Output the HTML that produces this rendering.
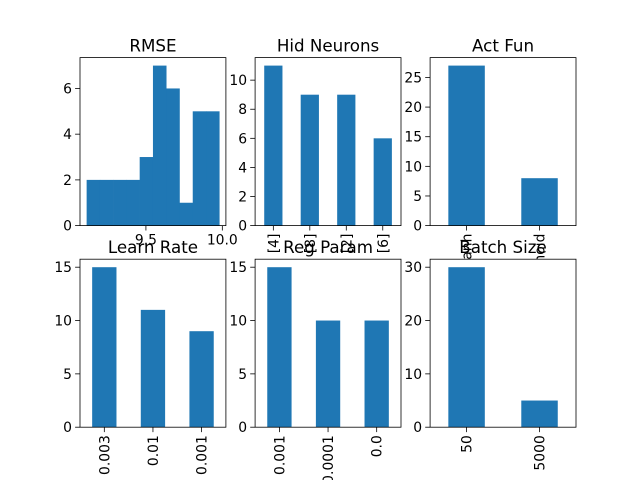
<!DOCTYPE html>
<html><head><meta charset="utf-8"><style>
html,body{margin:0;padding:0;background:#fff;}
svg{display:block;font-family:"DejaVu Sans","Liberation Sans",sans-serif;}
</style></head><body>
<svg id="fig" width="640" height="480" viewBox="0 0 640 480" xmlns="http://www.w3.org/2000/svg"></svg>
<script>
// RMSE histogram data
const rmseCounts = [2,2,2,2,3,7,6,1,5,5];
const rmseMin = 9.112, rmseMax = 9.98;
const rmseXTicks = [9.5, 10.0];
const rmseXTickLabels = ['9.5','10.0'];
const rmseYTicks = [0,2,4,6];
// Bar panels
const hidCats = ['[4]','[8]','[2]','[6]'];
const hidVals = [11,9,9,6];
const hidYTicks = [0,2,4,6,8,10];
const actCats = ['tanh','sigmoid'];
const actVals = [27,8];
const actYTicks = [0,5,10,15,20,25];
const lrCats = ['0.003','0.01','0.001'];
const lrVals = [15,11,9];
const lrYTicks = [0,5,10,15];
const regCats = ['0.001','0.0001','0.0'];
const regVals = [15,10,10];
const regYTicks = [0,5,10,15];
const bsCats = ['50','5000'];
const bsVals = [30,5];
const bsYTicks = [0,10,20,30];

const NS='http://www.w3.org/2000/svg';
const svg=document.getElementById('fig');
function mk(tag,attrs,parent){const e=document.createElementNS(NS,tag);for(const k in attrs)e.setAttribute(k,attrs[k]);(parent||svg).appendChild(e);return e;}
const color='#1f77b4';
const AW=145.9, AH=168;
const cols=[80,255.1,430.1], rows=[57.6,259.2];

function bg(g,x0,y0){
  const r=mk('rect',{x:x0,y:y0,width:AW,height:AH,fill:'#fff'},g);
  
  
}
function axesFrame(g,x0,y0,title,yTicks,yScale){
  const t=mk('text',{x:x0+AW/2,y:y0-6,'text-anchor':'middle','font-size':'16.7px',fill:'#000'},g);
  t.textContent=title;
  
  
  yTicks.forEach(v=>{
    const y=yScale(v);
    const l=mk('line',{x1:x0-4.9,x2:x0,y1:y,y2:y,stroke:'#000','stroke-width':0.8},g);
    
    
    const tx=mk('text',{x:x0-8,y:y+5,'text-anchor':'end','font-size':'13.9px',fill:'#000'},g);
    tx.textContent=String(v);
    
    
  });
}
function frameRect(g,x0,y0){
  const r=mk('rect',{x:x0,y:y0,width:AW,height:AH,fill:'none',stroke:'#000','stroke-width':0.8},g);
  
  
}

function histPanel(){
  const x0=cols[0], y0=rows[0];
  const g=mk('g',{});
  
  
  bg(g,x0,y0);
  const span=rmseMax-rmseMin, lo=rmseMin-0.05*span, hi=rmseMax+0.05*span;
  const xs=v=>x0+(v-lo)/(hi-lo)*AW;
  const ymax=Math.max(...rmseCounts)*1.05;
  const ys=v=>y0+AH-v/ymax*AH;
  const bw=span/rmseCounts.length;
  rmseCounts.forEach((c,i)=>{
    const a=xs(rmseMin+i*bw), b=xs(rmseMin+(i+1)*bw);
    const r=mk('rect',{x:a,y:ys(c),width:b-a+0.3,height:ys(0)-ys(c),fill:color},g);
    
    
  });
  axesFrame(g,x0,y0,'RMSE',rmseYTicks,ys);
  rmseXTicks.forEach((v,i)=>{
    const x=xs(v);
    const l=mk('line',{x1:x,x2:x,y1:y0+AH,y2:y0+AH+4.9,stroke:'#000','stroke-width':0.8},g);
    
    
    const t=mk('text',{x:x,y:y0+AH+19,'text-anchor':'middle','font-size':'13.9px',fill:'#000'},g);
    t.textContent=rmseXTickLabels[i];
    
    
  });
  frameRect(g,x0,y0);
}

function barPanel(col,row,title,cats,vals,yTicks,name){
  const x0=cols[col], y0=rows[row];
  const g=mk('g',{});
  
  
  bg(g,x0,y0);
  const n=cats.length;
  const xs=v=>x0+(v+0.5)/n*AW;
  const ymax=Math.max(...vals)*1.05;
  const ys=v=>y0+AH-v/ymax*AH;
  vals.forEach((v,i)=>{
    const a=xs(i-0.25), b=xs(i+0.25);
    const r=mk('rect',{x:a,y:ys(v),width:b-a,height:ys(0)-ys(v),fill:color},g);
    
    
  });
  axesFrame(g,x0,y0,title,yTicks,ys);
  cats.forEach((c,i)=>{
    const x=xs(i);
    const l=mk('line',{x1:x,x2:x,y1:y0+AH,y2:y0+AH+4.9,stroke:'#000','stroke-width':0.8},g);
    
    
    const ty=y0+AH+8;
    const t=mk('text',{x:x+5,y:ty,'text-anchor':'end','font-size':'13.9px',fill:'#000',transform:`rotate(-90 ${x+5} ${ty})`},g);
    t.textContent=c;
    
    
  });
  frameRect(g,x0,y0);
}

histPanel();
barPanel(1,0,'Hid Neurons',hidCats,hidVals,hidYTicks,'hid-neurons-panel');
barPanel(2,0,'Act Fun',actCats,actVals,actYTicks,'act-fun-panel');
barPanel(0,1,'Learn Rate',lrCats,lrVals,lrYTicks,'learn-rate-panel');
barPanel(1,1,'Reg Param',regCats,regVals,regYTicks,'reg-param-panel');
barPanel(2,1,'Batch Size',bsCats,bsVals,bsYTicks,'batch-size-panel');
</script>
</body></html>
